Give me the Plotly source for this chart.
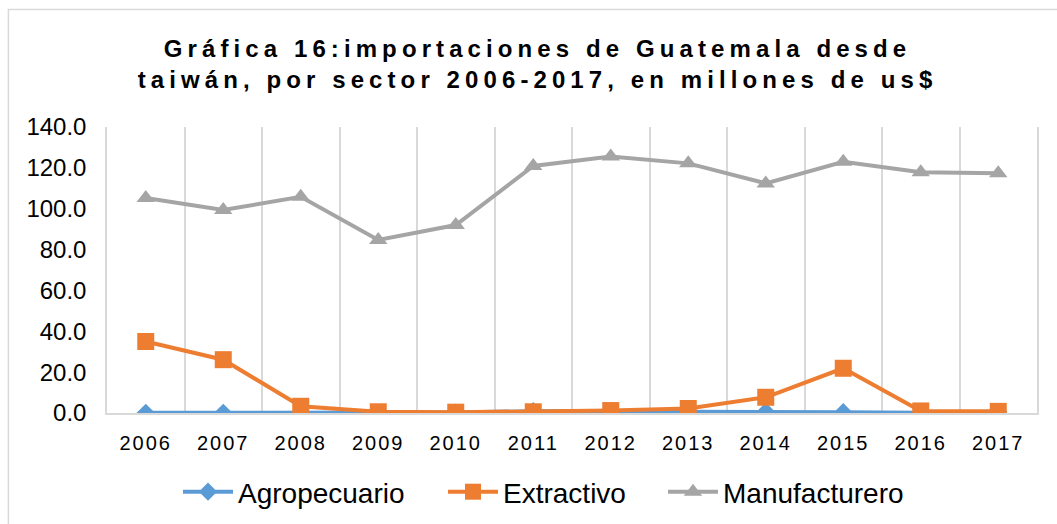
import plotly.graph_objects as go

years = ["2006", "2007", "2008", "2009", "2010", "2011",
         "2012", "2013", "2014", "2015", "2016", "2017"]

agropecuario = [0.1, 0.1, 0.1, 0.2, 0.2, 0.9, 1.0, 0.6, 0.7, 0.4, 0.1, 0.6]
extractivo = [35.0, 26.1, 3.3, 0.6, 0.4, 0.6, 1.2, 2.2, 7.7, 21.9, 1.0, 0.8]
manufacturero = [105.2, 99.4, 105.8, 84.7, 92.0, 120.9,
                 125.5, 122.2, 112.4, 123.0, 117.8, 117.3]

FONT = "Liberation Sans, Arial, sans-serif"

fig = go.Figure()

# series, each with its own legend box so the entries can be spaced like the original
fig.add_trace(go.Scatter(x=years, y=agropecuario, name="Agropecuario",
                         mode="lines+markers", legend="legend",
                         line=dict(color="#5B9BD5", width=4),
                         marker=dict(symbol="diamond", size=14, color="#5B9BD5")))
fig.add_trace(go.Scatter(x=years, y=extractivo, name="Extractivo",
                         mode="lines+markers", legend="legend2",
                         line=dict(color="#ED7D31", width=4),
                         marker=dict(symbol="square", size=17, color="#ED7D31")))
fig.add_trace(go.Scatter(x=years, y=manufacturero, name="Manufacturero",
                         mode="lines+markers", legend="legend3",
                         line=dict(color="#A5A5A5", width=4),
                         marker=dict(symbol="triangle-up", size=16, color="#A5A5A5")))


def legend_at(px):
    return dict(orientation="h", x=(px - 107) / 930, xanchor="left",
                y=1 - 492 / 524, yanchor="middle", yref="container",
                font=dict(family=FONT, size=28, color="black"),
                itemwidth=50, bgcolor="rgba(0,0,0,0)")


fig.update_layout(
    width=1057, height=524,
    margin=dict(l=107, r=20, t=127, b=111, autoexpand=False),
    paper_bgcolor="white", plot_bgcolor="white",
    font=dict(family=FONT, color="black"),
    title=dict(
        text="Gráfica 16:importaciones de Guatemala desde<br>taiwán, por sector 2006-2017, en millones de us$",
        x=0.5 + 9 / 1057, xanchor="center", xref="container",
        y=1 - 57 / 524, yanchor="top", yref="container",
        font=dict(family=FONT, size=24, color="black", weight="bold"),
    ),
    legend=legend_at(178),
    legend2=legend_at(443),
    legend3=legend_at(663),
    showlegend=True,
    shapes=[dict(type="rect", xref="paper", yref="paper",
                 x0=-0.106, x1=1.03, y0=-0.42, y1=1.411,
                 line=dict(color="#D9D9D9", width=1.5), layer="below")],
)

fig.update_xaxes(type="category", range=[-0.5, 11.5], tickson="boundaries",
                 showgrid=True, gridcolor="#D9D9D9", gridwidth=1.5,
                 showline=True, linecolor="#D9D9D9", linewidth=1.5,
                 ticks="", ticklabelstandoff=11, automargin=False,
                 tickfont=dict(family=FONT, size=20, color="black"))
fig.update_yaxes(range=[0, 140], dtick=20, tickformat=".1f",
                 showgrid=False, zeroline=False,
                 showline=True, mirror=True, linecolor="#D9D9D9", linewidth=1.5,
                 ticks="", ticklabelstandoff=14, automargin=False,
                 tickfont=dict(family=FONT, size=24, color="black"))

# page margin off, and the letter spacing used in the original chart
post = """
document.body.style.margin = '0';
document.querySelectorAll('.gtitle').forEach(function(e){e.style.letterSpacing='5.1px';});
document.querySelectorAll('.xtick text').forEach(function(e){e.style.letterSpacing='2px';});
"""

fig.write_html("out.html", post_script=post, config={"displayModeBar": False})
